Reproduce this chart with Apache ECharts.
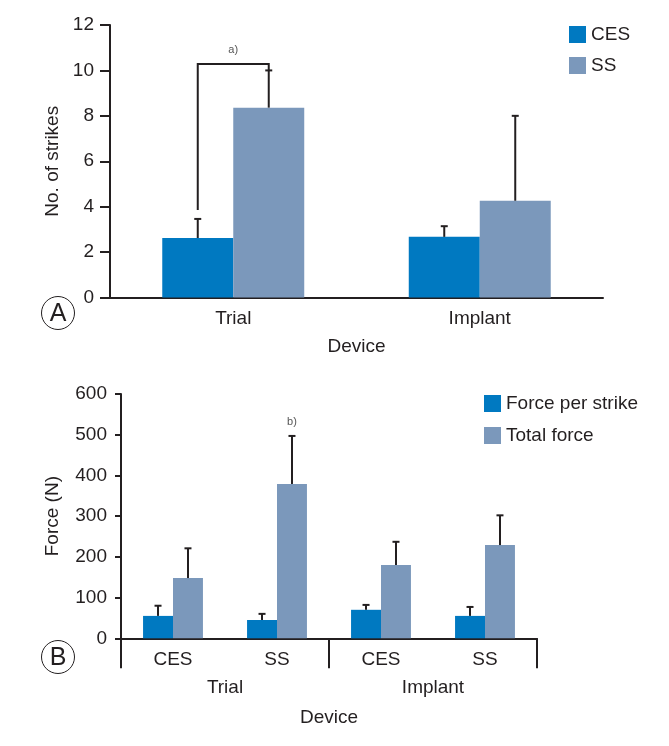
<!DOCTYPE html>
<html><head><meta charset="utf-8">
<script src="https://cdn.jsdelivr.net/npm/echarts@6/dist/echarts.min.js"></script>
<style>html,body{margin:0;padding:0;background:#fff}#c{width:669px;height:746px}</style>
</head><body><div id="c"></div>
<script>
// ---- Panel A data ----
const topCategories = ['Trial', 'Implant'];
const topSeriesNames = ['CES', 'SS'];
const cesStrikes = [2.62, 2.67];
const cesStrikesSD = [0.84, 0.47];
const ssStrikes = [8.36, 4.26];
const ssStrikesSD = [1.64, 3.74];
const topTicks = [0, 2, 4, 6, 8, 10, 12];
// bracket (significance) : [start level on CES, top level, end level on SS]
const bracketLevels = [3.85, 10.28, 10.0];
const bracketLabel = 'a)';
const bracketLabelValue = 10.9;

// ---- Panel B data ----
const bottomCategories = ['CES', 'SS', 'CES', 'SS'];
const groupCategories = ['Trial', 'Implant'];
const bottomSeriesNames = ['Force per strike', 'Total force'];
const forcePerStrike = [55, 45, 70, 55];
const forcePerStrikeSD = [25, 15, 12, 22];
const totalForce = [148, 379, 180, 229];
const totalForceSD = [73, 118, 57, 73];
const bottomTicks = [0, 100, 200, 300, 400, 500, 600];
const noteB = { label: 'b)', category: 1, value: 531 };

const F = '"Liberation Sans", Arial, sans-serif';
const FS = 19;
const TXT = '#231f20';
const BLUE = '#0079c1';
const GREY = '#7b98bb';
const BAR_W = 0.288;

function errSeries(vals, sds, side, xi, yi) {
  return {
    type: 'custom', xAxisIndex: xi, yAxisIndex: yi, z: 5, silent: true,
    data: vals.map((v, i) => [i, v, sds[i]]),
    encode: { x: 0, y: 1 },
    renderItem: function (params, api) {
      const c = api.value(0), v = api.value(1), sd = api.value(2);
      const p0 = api.coord([c, v]);
      const p1 = api.coord([c, v + sd]);
      const band = api.size([1, 0])[0];
      const x = p0[0] + side * band * BAR_W / 2;
      const st = { stroke: TXT, lineWidth: 2 };
      return { type: 'group', children: [
        { type: 'line', shape: { x1: x, y1: p0[1], x2: x, y2: p1[1] }, style: st },
        { type: 'line', shape: { x1: x - 3.5, y1: p1[1], x2: x + 3.5, y2: p1[1] }, style: st }
      ]};
    }
  };
}

const chart = echarts.init(document.getElementById('c'));
chart.setOption({
  animation: false,
  textStyle: { fontFamily: F, color: TXT },
  grid: [
    { left: 110, right: 66, top: 25, bottom: 448.5 },
    { left: 121, right: 132, top: 394, bottom: 107.7 }
  ],
  legend: [
    { data: topSeriesNames, orient: 'vertical', left: 569, top: 25, padding: 0,
      itemWidth: 17, itemHeight: 17, itemGap: 12, icon: 'rect',
      textStyle: { fontFamily: F, fontSize: FS, color: TXT } },
    { data: bottomSeriesNames, orient: 'vertical', left: 484, top: 394, padding: 0,
      itemWidth: 17, itemHeight: 17, itemGap: 13, icon: 'rect',
      textStyle: { fontFamily: F, fontSize: FS, color: TXT } }
  ],
  xAxis: [
    { type: 'category', gridIndex: 0, data: topCategories,
      name: 'Device', nameLocation: 'middle', nameGap: 40,
      nameTextStyle: { fontFamily: F, fontSize: FS, color: TXT },
      axisLine: { lineStyle: { color: TXT, width: 2 } },
      axisTick: { length: 10, lineStyle: { color: TXT, width: 2 } },
      axisLabel: { fontFamily: F, fontSize: FS, color: TXT, margin: 12 } },
    { type: 'category', gridIndex: 1, data: bottomCategories,
      name: 'Device', nameLocation: 'middle', nameGap: 70,
      nameTextStyle: { fontFamily: F, fontSize: FS, color: TXT },
      axisLine: { lineStyle: { color: TXT, width: 2 } },
      axisTick: { length: 10, lineStyle: { color: TXT, width: 2 } },
      axisLabel: { fontFamily: F, fontSize: FS, color: TXT, margin: 12 } },
    { type: 'category', gridIndex: 1, data: groupCategories, position: 'bottom',
      axisLine: { show: false },
      axisTick: { show: true, length: 30, lineStyle: { color: TXT, width: 2 } },
      axisLabel: { fontFamily: F, fontSize: FS, color: TXT, margin: 40 } }
  ],
  yAxis: [
    { type: 'value', gridIndex: 0, min: topTicks[0], max: topTicks[topTicks.length - 1], interval: topTicks[1] - topTicks[0],
      name: 'No. of strikes', nameLocation: 'middle', nameGap: 46, nameRotate: 90,
      nameTextStyle: { fontFamily: F, fontSize: FS, color: TXT },
      splitLine: { show: false },
      axisLine: { show: true, lineStyle: { color: TXT, width: 2 } },
      axisTick: { show: true, length: 10, lineStyle: { color: TXT, width: 2 } },
      axisLabel: { fontFamily: F, fontSize: FS, color: TXT, margin: 16 } },
    { type: 'value', gridIndex: 1, min: bottomTicks[0], max: bottomTicks[bottomTicks.length - 1], interval: bottomTicks[1] - bottomTicks[0],
      name: 'Force (N)', nameLocation: 'middle', nameGap: 59, nameRotate: 90,
      nameTextStyle: { fontFamily: F, fontSize: FS, color: TXT },
      splitLine: { show: false },
      axisLine: { show: true, lineStyle: { color: TXT, width: 2 } },
      axisTick: { show: true, length: 6, lineStyle: { color: TXT, width: 2 } },
      axisLabel: { fontFamily: F, fontSize: FS, color: TXT, margin: 14 } }
  ],
  series: [
    { name: topSeriesNames[0], type: 'bar', xAxisIndex: 0, yAxisIndex: 0, data: cesStrikes,
      barWidth: (BAR_W * 100) + '%', barGap: '0%', itemStyle: { color: BLUE } },
    { name: topSeriesNames[1], type: 'bar', xAxisIndex: 0, yAxisIndex: 0, data: ssStrikes,
      barWidth: (BAR_W * 100) + '%', barGap: '0%', itemStyle: { color: GREY } },
    errSeries(cesStrikes, cesStrikesSD, -1, 0, 0),
    errSeries(ssStrikes, ssStrikesSD, 1, 0, 0),
    { type: 'custom', xAxisIndex: 0, yAxisIndex: 0, z: 6, silent: true,
      data: [[0].concat(bracketLevels)],
      renderItem: function (params, api) {
        const c = api.value(0);
        const band = api.size([1, 0])[0];
        const pA = api.coord([c, api.value(1)]);
        const pT = api.coord([c, api.value(2)]);
        const pB = api.coord([c, api.value(3)]);
        const pL = api.coord([c, bracketLabelValue]);
        const xa = pA[0] - band * BAR_W / 2, xb = pA[0] + band * BAR_W / 2;
        return { type: 'group', children: [
          { type: 'polyline', shape: { points: [[xa, pA[1]], [xa, pT[1]], [xb, pT[1]], [xb, pB[1]]] },
            style: { stroke: TXT, lineWidth: 2, fill: null } },
          { type: 'text', style: { x: pA[0], y: pL[1], text: bracketLabel, fontFamily: F, fontSize: 11,
            fill: '#555', align: 'center', verticalAlign: 'middle' } }
        ]};
      } },
    { name: bottomSeriesNames[0], type: 'bar', xAxisIndex: 1, yAxisIndex: 1, data: forcePerStrike,
      barWidth: (BAR_W * 100) + '%', barGap: '0%', itemStyle: { color: BLUE } },
    { name: bottomSeriesNames[1], type: 'bar', xAxisIndex: 1, yAxisIndex: 1, data: totalForce,
      barWidth: (BAR_W * 100) + '%', barGap: '0%', itemStyle: { color: GREY } },
    errSeries(forcePerStrike, forcePerStrikeSD, -1, 1, 1),
    errSeries(totalForce, totalForceSD, 1, 1, 1),
    { type: 'custom', xAxisIndex: 1, yAxisIndex: 1, z: 6, silent: true,
      data: [[noteB.category, noteB.value]],
      renderItem: function (params, api) {
        const p = api.coord([api.value(0), api.value(1)]);
        const band = api.size([1, 0])[0];
        return { type: 'text', style: { x: p[0] + band * BAR_W / 2, y: p[1], text: noteB.label,
          fontFamily: F, fontSize: 11, fill: '#555', align: 'center', verticalAlign: 'middle' } };
      } }
  ],
  graphic: [
    { type: 'circle', shape: { cx: 58, cy: 313, r: 16.5 }, style: { fill: '#fff', stroke: TXT, lineWidth: 1 } },
    { type: 'text', x: 58, y: 314, style: { text: 'A', fontFamily: F, fontSize: 25,
      fill: TXT, align: 'center', verticalAlign: 'middle' } },
    { type: 'circle', shape: { cx: 58, cy: 657, r: 16.5 }, style: { fill: '#fff', stroke: TXT, lineWidth: 1 } },
    { type: 'text', x: 58, y: 658, style: { text: 'B', fontFamily: F, fontSize: 25,
      fill: TXT, align: 'center', verticalAlign: 'middle' } }
  ]
});
</script></body></html>
